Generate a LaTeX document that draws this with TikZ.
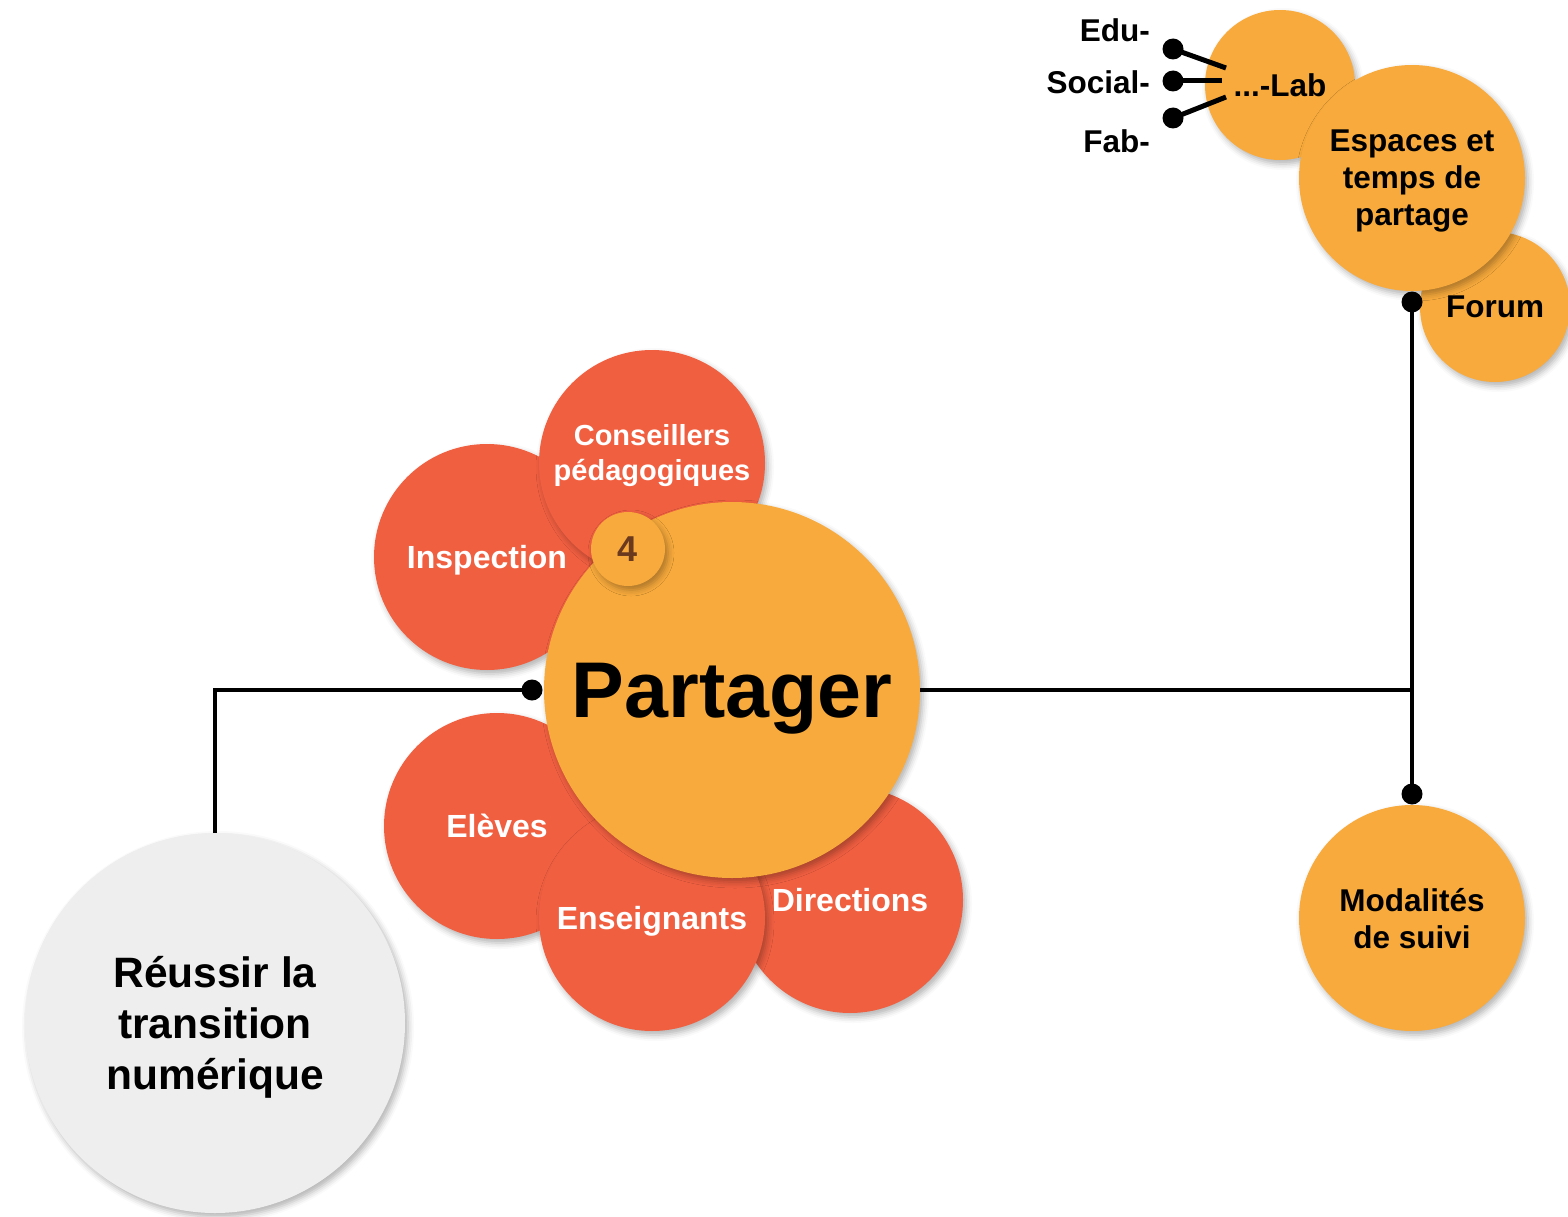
\documentclass[tikz,border=0pt]{standalone}
\usepackage{fontspec}
\setmainfont{Liberation Sans}
\usetikzlibrary{shadows.blur}
\definecolor{orng}{HTML}{F8AA3C}
\definecolor{rd}{HTML}{F15F41}
\definecolor{gry}{HTML}{EEEEEE}
\definecolor{brn}{HTML}{6B3A1E}
\tikzset{
  bub/.style={circle, inner sep=0pt, align=center, text depth=0pt,
    font=\bfseries\fontsize{31.5}{37}\selectfont,
    blur shadow={shadow xshift=3pt, shadow yshift=-4pt, shadow blur radius=6pt, shadow opacity=30}},
  orb/.style={bub, fill=orng, text=black},
  rdb/.style={bub, fill=rd, text=white, font=\bfseries\fontsize{32}{35}\selectfont},
  med/.style={minimum size=226pt},
  sml/.style={minimum size=150pt},
  conn/.style={line width=4.5pt, black},
  spoke/.style={line width=5pt, black},
  dotc/.style={circle, fill=black, inner sep=0pt, minimum size=21pt},
  lbl/.style={anchor=east, inner sep=0pt, font=\bfseries\fontsize{31.5}{37}\selectfont},
}
\begin{document}
\begin{tikzpicture}[x=1pt,y=-1pt]
\useasboundingbox (0,0) rectangle (1568,1217);

% main goal
\node[bub, fill=gry, minimum size=380pt, font=\bfseries\fontsize{42.5}{51}\selectfont] (reussir) at (215,1023) {Réussir la\\transition\\numérique};

% actors
\node[rdb, med] (inspection) at (487,557) {Inspection};
\node[rdb, med, text depth=22pt, font=\bfseries\fontsize{29}{35}\selectfont] (conseillers) at (652,463) {Conseillers\\pédagogiques};
\node[rdb, med] (eleves) at (497,826) {Elèves};
\node[rdb, med] (directions) at (850,900) {Directions};
\node[rdb, med] (enseignants) at (652,918) {Enseignants};

% connector on the left
\coordinate (jL) at (215,690);
\node[dotc] (dL) at (532,690) {};
\draw[conn] (reussir.north) -- (jL) -- (dL.center);

% central node
\node[orb, minimum size=376pt, font=\bfseries\fontsize{79}{90}\selectfont] (partager) at (732,690) {Partager};
\node[orb, minimum size=74pt, text=brn, font=\bfseries\fontsize{36}{40}\selectfont] (badge) at (628,549) {4};

% right-hand nodes
\node[orb, sml] (lab) at (1280,85) {...-Lab};
\node[orb, sml] (forum) at (1495,307) {Forum};
\node[orb, med] (espaces) at (1412,178) {Espaces et\\temps de\\partage};
\node[orb, med] (modalites) at (1412,918) {Modalités\\de suivi};

\coordinate (jR) at (1412,690);
\draw[conn] (partager.east) -- (jR);
\node[dotc] (dT) at (1412,302) {};
\node[dotc] (dB) at (1412,794) {};
\draw[conn] (dT.center) -- (dB.center);

% spokes of ...-Lab
\node[dotc] (sE) at (1173,49) {};
\node[dotc] (sS) at (1173,81) {};
\node[dotc] (sF) at (1173,118) {};
\coordinate (eE) at (1226,68);
\coordinate (eS) at (1222,81);
\coordinate (eF) at (1226,97);
\draw[spoke] (sE.center) -- (eE);
\draw[spoke] (sS.center) -- (eS);
\draw[spoke] (sF.center) -- (eF);

\node[lbl] (edu) at (1150,30) {Edu-};
\node[lbl] (social) at (1150,82) {Social-};
\node[lbl] (fab) at (1150,141) {Fab-};
\end{tikzpicture}
\end{document}
